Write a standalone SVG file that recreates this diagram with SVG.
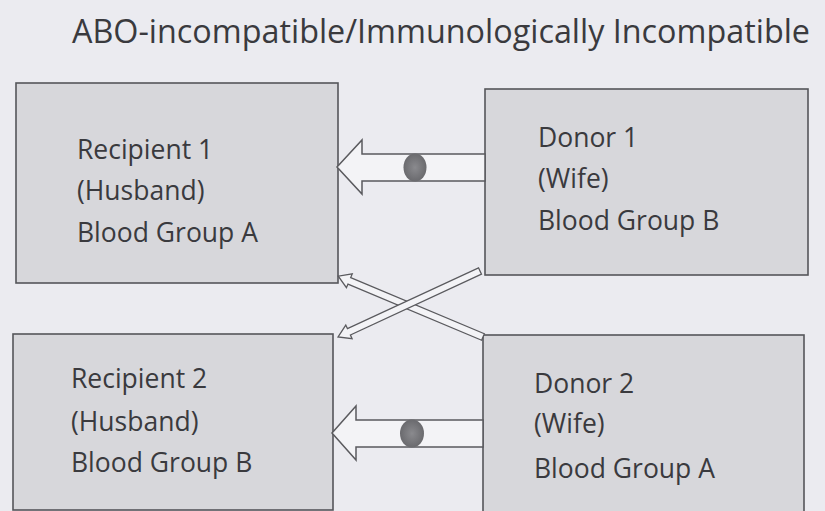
<svg xmlns="http://www.w3.org/2000/svg" width="825" height="511" viewBox="0 0 825 511">
<style>
.bg{fill:#ebebf0}
.box{fill:#d7d7db;stroke:#55565a;stroke-width:1.6}
.t{font-family:"Open Sans","Liberation Sans",sans-serif;font-size:26.5px;fill:#3a3a3e}
.title{font-family:"Open Sans","Liberation Sans",sans-serif;font-size:33px;fill:#3a3a3e}
.arr{fill:#f3f3f6;stroke:#5a5a5e;stroke-width:1.5;stroke-linejoin:miter}
.thin{fill:#f3f3f6;stroke:#5a5a5e;stroke-width:1.3}
.dot{fill:url(#dg)}
</style>
<defs>
<radialGradient id="dg" cx="0.5" cy="0.5" r="0.5">
<stop offset="0" stop-color="#8a8a8e"/>
<stop offset="1" stop-color="#6a6a6e"/>
</radialGradient>
</defs>
<rect class="bg" x="0" y="0" width="825" height="511"/>
<text class="title" x="72" y="43" textLength="738" lengthAdjust="spacingAndGlyphs">ABO-incompatible/Immunologically Incompatible</text>
<g id="recipient1">
<rect class="box" x="16" y="83" width="322" height="200"/>
<text class="t" x="77" y="159">Recipient 1</text>
<text class="t" x="77" y="200">(Husband)</text>
<text class="t" x="77" y="242">Blood Group A</text>
</g>
<g id="donor1">
<rect class="box" x="485" y="89" width="323" height="186"/>
<text class="t" x="538" y="147">Donor 1</text>
<text class="t" x="538" y="188">(Wife)</text>
<text class="t" x="538" y="230">Blood Group B</text>
</g>
<g id="recipient2">
<rect class="box" x="13" y="334" width="320" height="176"/>
<text class="t" x="71" y="388">Recipient 2</text>
<text class="t" x="71" y="431">(Husband)</text>
<text class="t" x="71" y="472">Blood Group B</text>
</g>
<g id="donor2">
<rect class="box" x="483" y="335" width="321" height="180"/>
<text class="t" x="534" y="393">Donor 2</text>
<text class="t" x="534" y="433">(Wife)</text>
<text class="t" x="534" y="478">Blood Group A</text>
</g>
<g id="connectors">
<polygon class="arr" points="337,167 362,140 362,154 485,154 485,181 362,181 362,194"/>
<ellipse class="dot" cx="415" cy="167.5" rx="11.5" ry="14"/>
<polygon class="arr" points="332,433 356,406 356,420 483,420 483,447 356,447 356,460"/>
<ellipse class="dot" cx="412" cy="433.5" rx="12" ry="14"/>
<polygon class="thin" transform="translate(483,337) rotate(202.8)" points="0,-3.5 145,-3.5 145,-7.5 157,0 145,7.5 145,3.5 0,3.5"/>
<polygon class="thin" transform="translate(480,271) rotate(155.1)" points="0,-3.5 144.5,-3.5 144.5,-7.5 156.5,0 144.5,7.5 144.5,3.5 0,3.5"/>
</g>
</svg>
